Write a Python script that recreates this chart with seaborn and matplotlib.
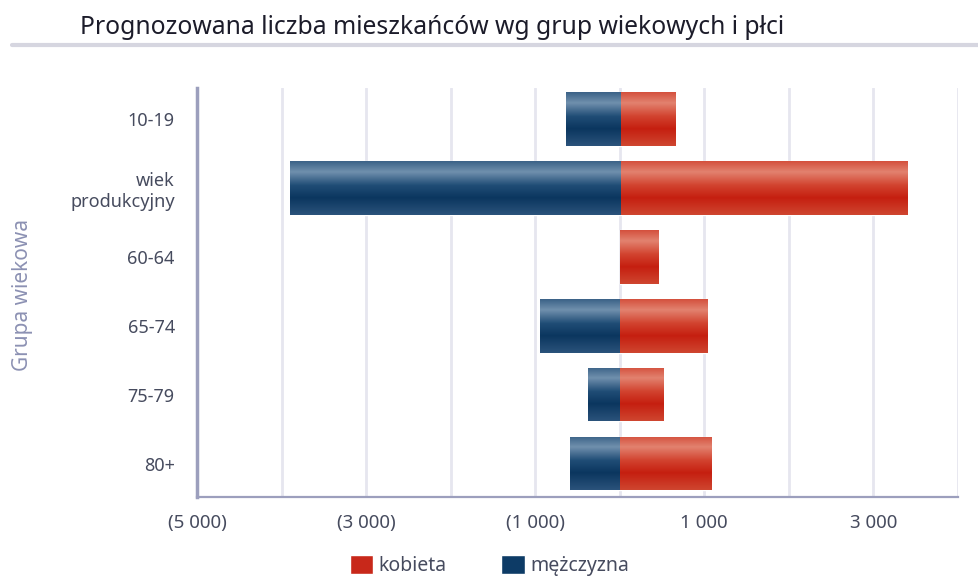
import numpy as np
import pandas as pd
import seaborn as sns
import matplotlib.pyplot as plt
from matplotlib.colors import LinearSegmentedColormap
from matplotlib.ticker import FuncFormatter, MultipleLocator

groups = ['10-19', 'wiek\nprodukcyjny', '60-64', '65-74', '75-79', '80+']
kobieta = [660, 3400, 450, 1040, 520, 1085]
mezczyzna = [-640, -3905, 0, -945, -378, -590]

df = pd.DataFrame({
    'grupa': groups * 2,
    'plec': ['kobieta'] * len(groups) + ['mężczyzna'] * len(groups),
    'liczba': kobieta + mezczyzna,
})

palette = {'kobieta': '#c8281a', 'mężczyzna': '#0d3b66'}
# glossy look of the original bars (top -> bottom)
grads = {
    'kobieta': LinearSegmentedColormap.from_list('k', [
        (0.0, '#d4503d'), (0.2, '#e2826f'), (0.45, '#d2432f'),
        (0.68, '#c51f10'), (1.0, '#cf4630')]),
    'mężczyzna': LinearSegmentedColormap.from_list('m', [
        (0.0, '#3b6287'), (0.2, '#7090ad'), (0.45, '#204d76'),
        (0.68, '#0b365f'), (1.0, '#2b537b')]),
}

sns.set_style('white')
plt.rcParams['font.family'] = ['Noto Sans', 'DejaVu Sans']

fig = plt.figure(figsize=(9.79, 5.77), dpi=100)
ax = fig.add_axes([0.2012, 0.1386, 0.7773, 0.7089])

sns.barplot(data=df, y='grupa', x='liczba', hue='plec', order=groups,
            hue_order=['kobieta', 'mężczyzna'], palette=palette,
            dodge=False, width=0.77, orient='h', ax=ax, legend=False)

grad = np.linspace(0, 1, 256).reshape(-1, 1)
for name, cont in zip(['kobieta', 'mężczyzna'], ax.containers):
    for bar in cont:
        bb = bar.get_bbox()
        if bb.width == 0:
            continue
        im = ax.imshow(grad, cmap=grads[name], aspect='auto', origin='upper',
                       extent=(bb.x0, bb.x1, bb.y1, bb.y0), zorder=3)
        im.set_clip_path(bar)

ax.set_xlim(-5000, 4000)
ax.set_ylim(5.48, -0.45)

ax.xaxis.set_major_locator(MultipleLocator(2000, offset=1000))
ax.xaxis.set_minor_locator(MultipleLocator(1000))


def fmt(v, pos):
    s = f"{abs(v):,.0f}".replace(',', ' ')
    return f"({s})" if v < 0 else s


ax.xaxis.set_major_formatter(FuncFormatter(fmt))
ax.grid(axis='x', which='both', color='#e6e6ef', linewidth=2, zorder=0)
ax.set_axisbelow(True)
ax.tick_params(axis='both', which='both', length=0, labelcolor='#464b5e')
ax.tick_params(axis='x', labelsize=13.5, pad=12)
ax.tick_params(axis='y', labelsize=13, pad=16)

for s in ['top', 'right']:
    ax.spines[s].set_visible(False)
ax.spines['left'].set_color('#9c9fbd')
ax.spines['left'].set_linewidth(2.5)
ax.spines['bottom'].set_color('#9c9fbd')
ax.spines['bottom'].set_linewidth(1.6)

ax.set_xlabel('')
ax.set_ylabel('')
fig.text(0.023, 0.488, 'Grupa wiekowa', rotation=90, ha='center', va='center',
         fontsize=15, color='#8c91b3')

fig.text(0.082, 0.953, 'Prognozowana liczba mieszkańców wg grup wiekowych i płci',
         ha='left', va='center', fontsize=17.8, color='#1c1c2a')
fig.add_artist(plt.Line2D([0.012, 1.0], [0.922, 0.922], color='#d6d6e0',
                          linewidth=3, transform=fig.transFigure))

handles = [plt.Rectangle((0, 0), 1, 1, facecolor=palette[k]) for k in palette]
fig.legend(handles, list(palette), loc='center', bbox_to_anchor=(0.5, 0.02),
           ncol=2, frameon=False, fontsize=14, handlelength=1.2,
           handleheight=1.15, handletextpad=0.3, columnspacing=2.8,
           labelcolor='#464b5e')

fig.savefig('out.png', dpi=100)
